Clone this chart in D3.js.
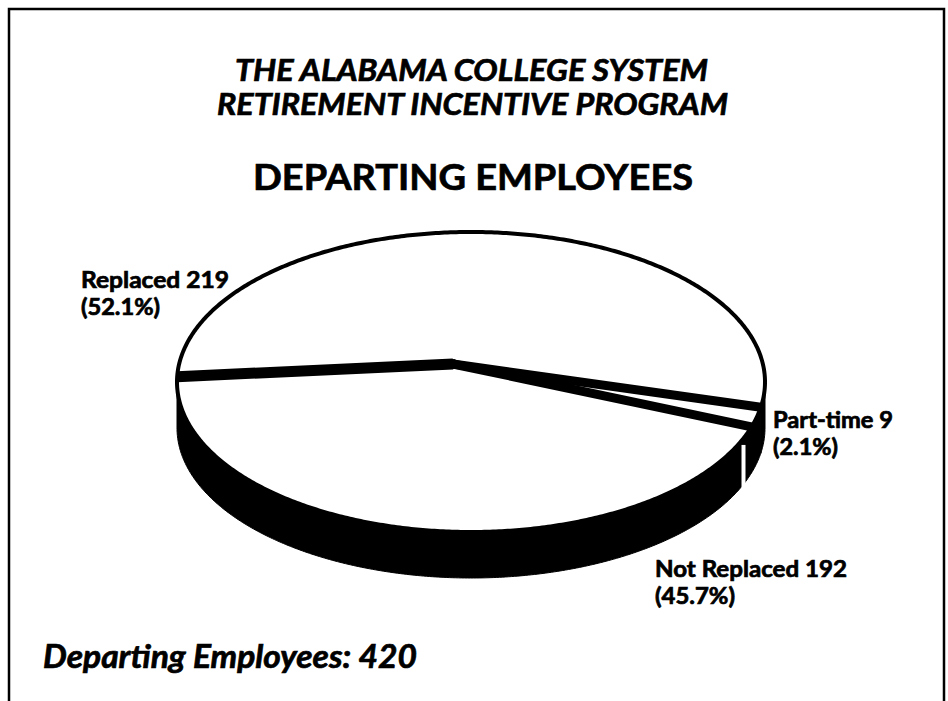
<!DOCTYPE html>
<html>
<head>
<meta charset="utf-8">
<script src="https://cdn.jsdelivr.net/npm/d3@7"></script>
<style>
  html, body { margin: 0; padding: 0; background: #fff; }
  svg { display: block; }
  text { font-family: Lato, "Open Sans", "Liberation Sans", sans-serif; fill: #000; font-weight: 700; stroke: #000; stroke-width: 0.7px; }
</style>
</head>
<body>
<svg id="chart" width="948" height="701"></svg>
<script>
// ---- data ----
const categories = ["Replaced", "Part-time", "Not Replaced"];
const values = [219, 9, 192];
const percentLabels = ["(52.1%)", "(2.1%)", "(45.7%)"];
const totalLabel = "Departing Employees: 420";
const titleLines = ["THE ALABAMA COLLEGE SYSTEM", "RETIREMENT INCENTIVE PROGRAM"];
const subtitle = "DEPARTING EMPLOYEES";

// ---- layout ----
const W = 948, H = 701;
const cx = 471, cy = 382, rx = 294, ry = 150, depth = 46;
const apex = { x: 453, y: 364 };
const startDeg = 272;

const svg = d3.select("#chart");

// frame
svg.append("path")
  .attr("d", `M9,701 L9,9 L944,9 L944,701`)
  .attr("fill", "none").attr("stroke", "#000").attr("stroke-width", 2.5);

// titles
svg.append("text").attr("x", 235).attr("y", 81).attr("font-size", 30)
  .attr("font-style", "italic").attr("textLength", 473).attr("lengthAdjust", "spacingAndGlyphs")
  .text(titleLines[0]);
svg.append("text").attr("x", 217).attr("y", 115).attr("font-size", 30)
  .attr("font-style", "italic").attr("textLength", 511).attr("lengthAdjust", "spacingAndGlyphs")
  .text(titleLines[1]);
svg.append("text").attr("x", 253).attr("y", 190).attr("font-size", 36)
  .attr("textLength", 440).attr("lengthAdjust", "spacingAndGlyphs")
  .text(subtitle);

// pie angles via d3.pie
const toRad = d => d * Math.PI / 180;
const pie = d3.pie().sort(null).value(d => d)
  .startAngle(toRad(startDeg)).endAngle(toRad(startDeg) + 2 * Math.PI);
const arcs = pie(values);

const px = a => cx + rx * Math.sin(a);
const py = a => cy - ry * Math.cos(a);
const line = d3.line().x(d => d[0]).y(d => d[1]);

function arcPoints(a0, a1, dy = 0) {
  const n = Math.max(2, Math.ceil(Math.abs(a1 - a0) / 0.01));
  return d3.range(n + 1).map(i => {
    const a = a0 + (a1 - a0) * i / n;
    return [px(a), py(a) + dy];
  });
}

// visible (front) portions of each slice's side
function frontRanges(a0, a1) {
  const out = [];
  for (let k = -1; k <= 2; k++) {
    const lo = Math.PI / 2 + k * 2 * Math.PI, hi = 3 * Math.PI / 2 + k * 2 * Math.PI;
    const s = Math.max(a0, lo), e = Math.min(a1, hi);
    if (e > s) out.push([s, e]);
  }
  return out;
}

const gSide = svg.append("g");
arcs.forEach(d => {
  frontRanges(d.startAngle, d.endAngle).forEach(([s, e]) => {
    const top = arcPoints(s, e);
    const bot = arcPoints(e, s, depth);
    gSide.append("path").attr("d", line(top.concat(bot)) + "Z")
      .attr("fill", "#000").attr("stroke", "#000").attr("stroke-width", 1);
  });
});

// white gap on the side between Part-time and Not Replaced
const gapA = arcs[1].endAngle;
svg.append("line")
  .attr("x1", px(gapA) - 8).attr("y1", py(gapA) + 18)
  .attr("x2", px(gapA) - 8).attr("y2", py(gapA) + depth + 20)
  .attr("stroke", "#fff").attr("stroke-width", 4);

// top faces
const gTop = svg.append("g");
arcs.forEach(d => {
  const pts = [[apex.x, apex.y]].concat(arcPoints(d.startAngle, d.endAngle));
  gTop.append("path").attr("d", line(pts) + "Z")
    .attr("fill", "#fff").attr("stroke", "none");
});
// outline of top ellipse
gTop.append("path")
  .attr("d", line(arcPoints(0, 2 * Math.PI)) + "Z")
  .attr("fill", "none").attr("stroke", "#000").attr("stroke-width", 4);

// slice boundary bands
const bandW = [11, 9, 9];
arcs.forEach((d, i) => {
  svg.append("line")
    .attr("x1", apex.x).attr("y1", apex.y)
    .attr("x2", px(d.startAngle)).attr("y2", py(d.startAngle))
    .attr("stroke", "#000").attr("stroke-width", bandW[i]).attr("stroke-linecap", "butt");
});
svg.append("circle").attr("cx", apex.x).attr("cy", apex.y).attr("r", 5).attr("fill", "#000");

// slice labels
const labelPos = [
  { x: 81, y: 288, w1: 148, w2: 79 },
  { x: 773, y: 428, w1: 120, w2: 65 },
  { x: 655, y: 577, w1: 192, w2: 80 }
];
arcs.forEach((d, i) => {
  const p = labelPos[i];
  svg.append("text").attr("x", p.x).attr("y", p.y).attr("font-size", 22)
    .attr("textLength", p.w1).attr("lengthAdjust", "spacingAndGlyphs")
    .text(`${categories[i]} ${values[i]}`);
  svg.append("text").attr("x", p.x).attr("y", p.y + 27).attr("font-size", 22)
    .attr("textLength", p.w2).attr("lengthAdjust", "spacingAndGlyphs")
    .text(percentLabels[i]);
});

// total
svg.append("text").attr("x", 43).attr("y", 668).attr("font-size", 32)
  .attr("font-style", "italic").attr("textLength", 374).attr("lengthAdjust", "spacingAndGlyphs")
  .text(totalLabel);
</script>
</body>
</html>
